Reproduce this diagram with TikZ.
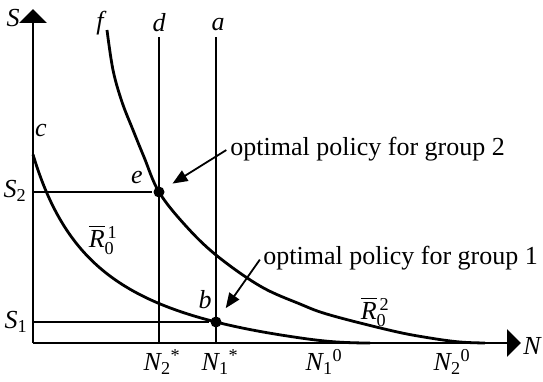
\documentclass[tikz,border=0pt]{standalone}
\usepackage{amsmath}
\usepackage{fontspec}
\setmainfont{Liberation Serif}
\usetikzlibrary{arrows.meta}

\newcommand{\iv}[1]{\mbox{\itshape #1}}

\begin{document}
\begin{tikzpicture}[x=1pt, y=-1pt, line width=2.8pt,
    lbl/.style={font=\fontsize{26}{30}\selectfont, inner sep=1pt},
    dot/.style={circle, fill, inner sep=0pt, minimum size=11pt},
    axis/.style={-{Triangle[length=14pt, width=27pt]}},
    callout/.style={-{Triangle[length=15pt, width=12pt]}, line width=1.8pt}]
    \useasboundingbox (0,0) rectangle (543,382);

    % Axes
    \coordinate (O) at (33,343);
    \coordinate (Stop) at (33,9);
    \coordinate (Nend) at (521,343);
    \draw[axis] (O) -- (Stop);
    \draw[axis] (O) -- (Nend);
    \node[lbl] (S) at (13,18) {\iv{S}};
    \node[lbl] (N) at (532,346) {\iv{N}};

    % Vertical lines d and a
    \coordinate (d0) at (159,343);
    \coordinate (d1) at (159,37);
    \coordinate (a0) at (216,343);
    \coordinate (a1) at (216,37);
    \draw (d0) -- (d1);
    \draw (a0) -- (a1);
    \node[lbl] (d) at (159,23) {\iv{d}};
    \node[lbl] (a) at (218,25) {\iv{a}};

    % Optimal points
    \node[dot] (e) at (159,192) {};
    \node[dot] (b) at (216,322) {};
    \node[lbl] (le) at (137,178) {\iv{e}};
    \node[lbl] (lb) at (205,300) {\iv{b}};

    % Horizontal lines S2 and S1
    \coordinate (s2) at (33,192);
    \coordinate (s1) at (33,322);
    \draw (s2) -- (e);
    \draw[line width=2pt] (s1) -- (b);
    \node[lbl] (S2) at (15,191) {$\iv{S}_{\text{2}}$};
    \node[lbl] (S1) at (16,322) {$\iv{S}_{\text{1}}$};

    % Curve f (group 2)
    \draw plot[smooth, tension=0.6] coordinates {(107,30) (113,70) (122,102) (133,130) (144,157)
        (159,192) (185,225) (216,255) (260,286) (300,304) (330,315) (393,331) (430,338)
        (460,342) (485,343)};
    \node[lbl] (f) at (100,23) {\iv{f}};

    % Curve c (group 1)
    \draw plot[domain=33:290, samples=60, smooth] (\x, {343 - 16026/(\x+36.4) + 42.5})
        .. controls (315,340.2) and (335,343) .. (370,343);
    \node[lbl] (c) at (41,131) {\iv{c}};

    % Curve labels
    \node[lbl] (R1) at (103,240) {$\overline{\iv{R}}{}_{\text{0}}^{\,\text{1}}$};
    \node[lbl] (R2) at (375,312) {$\overline{\iv{R}}{}_{\text{0}}^{\,\text{2}}$};

    % Axis labels on N
    \node[lbl] (N2s) at (162,362) {$\iv{N}_{\text{2}}{}^{\text{*}}$};
    \node[lbl] (N1s) at (220,362) {$\iv{N}_{\text{1}}{}^{\text{*}}$};
    \node[lbl] (N10) at (324,362) {$\iv{N}_{\text{1}}{}^{\text{0}}$};
    \node[lbl] (N20) at (452,362) {$\iv{N}_{\text{2}}{}^{\text{0}}$};

    % Callouts
    \node[lbl, anchor=west] (g2) at (228,149) {optimal policy for group 2};
    \node[lbl, anchor=west] (g1) at (261,258) {optimal policy for group 1};
    \draw[callout, shorten <=2pt, shorten >=9pt] (g2.west) -- (e);
    \draw[callout, shorten <=2pt, shorten >=10pt] (g1.west) -- (b);
\end{tikzpicture}
\end{document}
